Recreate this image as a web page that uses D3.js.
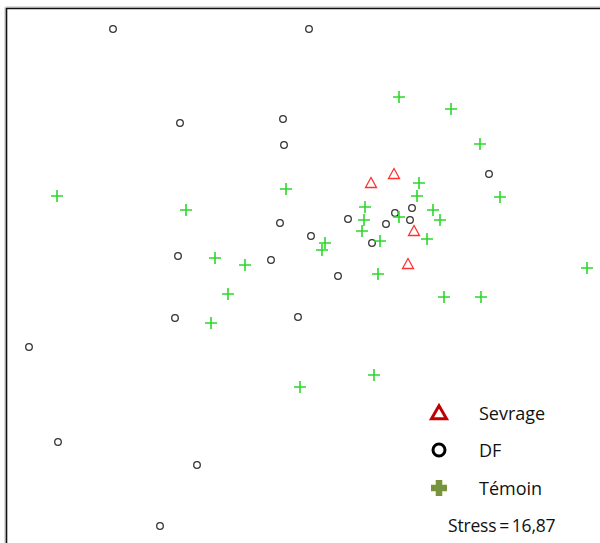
<!DOCTYPE html>
<html>
<head>
<meta charset="utf-8">
<script src="https://cdn.jsdelivr.net/npm/d3@7"></script>
<style>
  html, body { margin: 0; padding: 0; background: #fff; }
  svg { display: block; }
</style>
</head>
<body>
<div id="chart"></div>
<script>
// NMDS coordinates (axis 1, axis 2)
const dfX = [-1.87, 0.09, -1.20, -0.17, -0.16, 1.89, -0.20, 0.11, 0.48, 1.12, 0.95, 1.10, 0.86, 0.72, -1.22, -0.29, 0.38, -1.25, -0.02, -2.71, -2.42, -1.03, -1.40];
const dfY = [2.41, 2.41, 1.47, 1.51, 1.25, 0.96, 0.47, 0.34, 0.51, 0.62, 0.57, 0.50, 0.46, 0.27, 0.14, 0.10, -0.06, -0.48, -0.47, -0.77, -1.72, -1.95, -2.56];

const temoinX = [0.99, 1.51, 1.80, -0.14, 1.19, -2.43, 2.00, -1.14, 1.17, 0.65, 1.33, 1.40, 0.64, 0.99, 1.27, 0.80, 0.25, 0.22, 0.62, -0.85, -0.55, 0.78, 2.87, -0.72, 1.44, 1.81, -0.89, 0.74, 0.00];
const temoinY = [1.73, 1.61, 1.26, 0.81, 0.87, 0.74, 0.73, 0.60, 0.74, 0.63, 0.60, 0.50, 0.50, 0.53, 0.31, 0.29, 0.27, 0.20, 0.39, 0.12, 0.05, -0.04, 0.02, -0.24, -0.27, -0.27, -0.53, -1.05, -1.17];

const sevrageX = [0.71, 0.94, 1.14, 1.08];
const sevrageY = [0.87, 0.96, 0.39, 0.06];

const legendLabels = ["Sevrage", "DF", "Témoin"];
const stressLabel = "Stress = 16,87";

const W = 600, H = 543;
const svg = d3.select("#chart").append("svg").attr("width", W).attr("height", H);

const x = d3.scaleLinear().domain([-3, 3]).range([0, 600]);
const y = d3.scaleLinear().domain([2.7, -2.73]).range([0, 543]);

// frame (partially visible box)
svg.append("line").attr("x1", 5.5).attr("x2", 600).attr("y1", 7).attr("y2", 7).attr("stroke", "#bbb").attr("stroke-width", 1);
svg.append("line").attr("x1", 5).attr("x2", 5).attr("y1", 7).attr("y2", 543).attr("stroke", "#bbb").attr("stroke-width", 1);
svg.append("line").attr("x1", 6).attr("x2", 600).attr("y1", 8.5).attr("y2", 8.5).attr("stroke", "#111").attr("stroke-width", 1.6);
svg.append("line").attr("x1", 6.5).attr("x2", 6.5).attr("y1", 8).attr("y2", 543).attr("stroke", "#111").attr("stroke-width", 1.6);

const df = dfX.map((v, i) => ({x: v, y: dfY[i]}));
const tem = temoinX.map((v, i) => ({x: v, y: temoinY[i]}));
const sev = sevrageX.map((v, i) => ({x: v, y: sevrageY[i]}));

svg.append("g").selectAll("circle").data(df).join("circle")
  .attr("cx", d => x(d.x)).attr("cy", d => y(d.y)).attr("r", 3.3)
  .attr("fill", "none").attr("stroke", "#333").attr("stroke-width", 1.3);

const cs = 6;
svg.append("g").selectAll("path").data(tem).join("path")
  .attr("d", d => `M${x(d.x) - cs},${y(d.y)}H${x(d.x) + cs}M${x(d.x)},${y(d.y) - cs}V${y(d.y) + cs}`)
  .attr("stroke", "#2bd82b").attr("stroke-width", 1.6).attr("fill", "none");

function tri(cx, cy, w, h) {
  return `M${cx},${cy - h * 0.55}L${cx + w / 2},${cy + h * 0.45}L${cx - w / 2},${cy + h * 0.45}Z`;
}
svg.append("g").selectAll("path").data(sev).join("path")
  .attr("d", d => tri(x(d.x), y(d.y), 11, 10))
  .attr("fill", "#fff").attr("stroke", "#ff3030").attr("stroke-width", 1.3);

// legend
const lg = svg.append("g");
const lx = 439, tx = 479;
const rows = [413, 450, 488];
lg.append("path").attr("d", tri(lx, rows[0], 15, 13)).attr("fill", "none").attr("stroke", "#c00000").attr("stroke-width", 3).attr("stroke-linejoin", "miter");
lg.append("circle").attr("cx", lx).attr("cy", rows[1]).attr("r", 6).attr("fill", "none").attr("stroke", "#000").attr("stroke-width", 3);
lg.append("path").attr("d", `M${lx - 8},${rows[2]}H${lx + 8}M${lx},${rows[2] - 8}V${rows[2] + 8}`)
  .attr("stroke", "#77933c").attr("stroke-width", 6.5);
legendLabels.forEach((t, i) => {
  lg.append("text").attr("x", tx).attr("y", rows[i] + 6.5).text(t)
    .attr("font-family", "'Open Sans', sans-serif").attr("font-size", 18).attr("fill", "#111");
});
lg.append("text").attr("x", 448).attr("y", 532).text(stressLabel)
  .attr("font-family", "'Open Sans', sans-serif").attr("font-size", 17.5)
  .attr("word-spacing", -1.5).attr("letter-spacing", -0.2).attr("fill", "#111");
</script>
</body>
</html>
